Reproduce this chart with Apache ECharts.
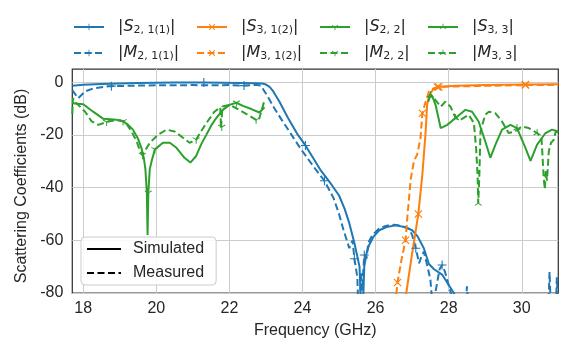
<!DOCTYPE html>
<html><head><meta charset="utf-8">
<script src="https://cdn.jsdelivr.net/npm/echarts@6/dist/echarts.min.js"></script>
<style>html,body{margin:0;padding:0;background:#fff}#c{width:562px;height:344px}</style>
</head><body><div id="c"></div>
<script>
// ---------- data ----------
const xTicks = [18, 20, 22, 24, 26, 28, 30];
const yTicks = [-80, -60, -40, -20, 0];

// |S21| simulated
const s21SimF = [17.7,18.0,18.5,19.0,19.5,20.0,20.5,21.0,21.3,21.8,22.3,22.7,22.9,23.0,23.1,23.2,23.37,23.6,23.85,24.08,24.3,24.5,24.8,25.0,25.15,25.28,25.42,25.56,25.63,25.69,25.75,25.82,25.95,26.1,26.3,26.55,26.8,27.0,27.15,27.32,27.46,27.6,27.82,28.14,28.5,31.0];
const s21SimV = [-1.4,-1.0,-0.7,-0.5,-0.3,-0.2,-0.1,-0.1,-0.1,-0.2,-0.3,-0.4,-0.5,-0.9,-1.8,-3.5,-7.4,-13.5,-19.5,-24,-29,-33.5,-39,-43,-48,-53.5,-61,-70,-95,-70,-65,-61.9,-58.5,-56.2,-55,-54.3,-55,-56.2,-58.5,-63,-69,-71,-73,-80,-90,-95];
const s21SimMk = [21.3, 24.08];
// |M21| measured
const m21F = [17.7,17.86,18.05,18.27,18.55,18.77,19.5,20.0,20.5,21.0,21.5,22.0,22.4,22.7,22.85,22.91,23.05,23.23,23.44,23.64,23.96,24.3,24.6,24.85,25.0,25.12,25.28,25.37,25.42,25.5,25.55,25.6,25.63,25.69,25.75,25.8,25.91,26.1,26.3,26.5,26.7,26.91,27.0,27.1,27.19,27.26,27.32,27.42,27.5,27.56,27.66,27.75,27.82,27.9,27.96,28.1,28.45,28.5,28.55,30.72,30.76,30.8,30.93,30.96,31.0];
const m21V = [-3,-6.1,-3.5,-2.4,-1.8,-1.5,-1.3,-1.2,-1.2,-1.1,-1.2,-1.1,-1.3,-1.0,-1.3,-2.4,-5.5,-9.9,-14.5,-18.7,-25.5,-32,-37.4,-44,-50,-56,-63,-60,-67,-74,-95,-72,-79,-65.6,-67,-61,-58,-55.5,-54.5,-54.1,-54.5,-55.6,-58,-63,-68.7,-66,-64.3,-70,-75,-85,-78,-71,-69.4,-72,-75,-82,-88,-77.5,-88,-88,-72,-88,-88,-74,-88];
const m21Mk = [18.77, 22.4, 24.6, 25.42, 25.69, 27.1, 27.82];

// |S31| simulated
const s31SimF = [26.5,26.84,27.0,27.17,27.28,27.37,27.41,27.46,27.5,27.58,27.69,28.19,29.0,30.1,31.0];
const s31SimV = [-100,-80,-65,-50,-35,-18.7,-8.6,-5.5,-4.3,-2.6,-1.8,-1.4,-1.1,-0.9,-0.8];
const s31SimMk = [27.17, 27.69, 30.1];
// |M31| measured
const m31F = [26.3,26.57,26.6,26.7,26.82,26.87,26.96,27.05,27.14,27.23,27.28,27.37,27.46,27.58,27.73,28.2,29.0,30.1,31.0];
const m31V = [-100,-80,-76,-68,-60,-51,-37,-29.9,-27.4,-21.1,-11.8,-7.4,-3.6,-2.4,-1.8,-1.6,-1.4,-1.1,-1.0];
const m31Mk = [26.6, 26.82, 27.28, 27.73, 30.1];

// |S22| simulated
const s22SimF = [17.7,18.0,18.27,18.55,18.91,19.09,19.23,19.36,19.5,19.59,19.66,19.7,19.74,19.76,19.78,19.82,19.87,19.96,20.18,20.37,20.55,20.77,20.93,21.09,21.23,21.37,21.5,21.64,21.82,22.0,22.19,22.37,22.6,22.82,22.96];
const s22SimV = [-8.0,-8.4,-11.2,-13.9,-14.3,-14.9,-16.2,-18,-21.5,-24.9,-29,-33,-42,-58,-42,-33,-30,-25.5,-23,-23,-24.9,-28.7,-30.5,-28,-23.5,-19.9,-16.5,-13.6,-10.5,-8.6,-7.8,-9.0,-10.2,-11.5,-9.5];
const s22SimMk = [19.09, 19.78, 19.96, 22.19];
// |M22| measured
const m22F = [17.7,17.72,17.76,17.86,18.05,18.23,18.41,18.64,18.91,19.14,19.32,19.46,19.55,19.62,19.68,19.82,20.05,20.28,20.5,20.73,20.91,21.09,21.23,21.37,21.59,21.75,21.77,21.79,21.81,22.0,22.19,22.5,22.73,22.8,22.91,22.96];
const m22V = [-12,-6,-7.5,-8.6,-11.2,-14.9,-16.2,-15.1,-14.3,-14.9,-18.7,-22.4,-26,-27.7,-26.2,-23,-19.9,-18,-18.7,-21.1,-23,-21.8,-18.5,-15.5,-11.2,-9.5,-17.5,-17,-9.2,-8.6,-9.9,-12.4,-14.3,-14.5,-9.3,-6.8];
const m22Mk = [18.64, 19.62, 21.09, 21.79, 22.73];

// |S33| simulated
const s33SimF = [27.44,27.5,27.57,27.64,27.72,27.78,27.82,27.96,28.19,28.46,28.64,28.82,29.0,29.14,29.28,29.46,29.69,29.87,30.1,30.24,30.42,30.65,30.83,31.0];
const s33SimV = [-7.4,-4.9,-6.0,-8.6,-13.5,-17.4,-18,-16.2,-13.6,-10.5,-11.2,-14.9,-22.4,-28.7,-23.7,-18,-16.2,-17.4,-24.9,-29.9,-23.7,-19.3,-18,-18.7];
const s33SimMk = [27.5, 28.19, 29.87];
// |M33| measured
const m33F = [27.46,27.5,27.57,27.64,27.78,27.91,28.05,28.19,28.32,28.55,28.69,28.75,28.79,28.81,28.84,28.87,29.0,29.1,29.28,29.46,29.64,29.82,30.0,30.19,30.42,30.54,30.6,30.63,30.66,30.69,30.74,30.8,30.87,30.93,31.0];
const m33V = [-6.1,-4.6,-5.5,-6.8,-9.3,-7.4,-9.3,-13.6,-14.3,-12.4,-15.5,-24.9,-35,-46,-35,-18.7,-12.4,-11.2,-11.8,-14.9,-19.3,-18.7,-16.8,-17.4,-19.3,-21.1,-36,-40.6,-33.7,-37.4,-26.2,-23,-22,-18.7,-19];
const m33Mk = [28.81, 30.42];

// ---------- helpers ----------
function bar(x1,y1,x2,y2,w){
  const dx=x2-x1, dy=y2-y1, L=Math.hypot(dx,dy), nx=-dy/L*w/2, ny=dx/L*w/2;
  const p=(x,y)=>x.toFixed(3)+','+y.toFixed(3);
  return 'M'+p(x1+nx,y1+ny)+'L'+p(x2+nx,y2+ny)+'L'+p(x2-nx,y2-ny)+'L'+p(x1-nx,y1-ny)+'Z';
}
const W=0.24;
const symPlus='path://'+bar(-1,0,1,0,W)+bar(0,-1,0,1,W);
const symX='path://'+bar(-0.75,-0.75,0.75,0.75,W)+bar(-0.75,0.75,0.75,-0.75,W);
const symTriDown='path://'+bar(0,0,0,1,W)+bar(0,0,-0.87,-0.5,W)+bar(0,0,0.87,-0.5,W)+'M0,-1L0.001,-1L0,-1Z';
const symTriUp='path://'+bar(0,0,0,-1,W)+bar(0,0,-0.87,0.5,W)+bar(0,0,0.87,0.5,W)+'M0,1L0.001,1L0,1Z';

function build(f,v,mk){
  return f.map((x,i)=>{
    const it={value:[x,v[i]]};
    if(!mk.includes(x)) it.symbol='none';
    return it;
  });
}
const BLUE='#1f77b4', ORANGE='#ff7f0e', GREEN='#2ca02c';
const DASH=[7,3.5];
function ser(name,color,dashed,sym,size,f,v,mk){
  return {name, type:'line', data:build(f,v,mk), color, symbol:sym, symbolSize:size, symbolKeepAspect:true,
    showSymbol:true, showAllSymbol:true, clip:true, smooth:false, animation:false,
    lineStyle:{width:2, type: dashed?DASH:'solid', color},
    itemStyle:{color}, emphasis:{disabled:true}};
}
const series=[
  ser('S21',BLUE,false,symPlus,9,s21SimF,s21SimV,s21SimMk),
  ser('M21',BLUE,true,symPlus,9,m21F,m21V,m21Mk),
  ser('S31',ORANGE,false,symX,8,s31SimF,s31SimV,s31SimMk),
  ser('M31',ORANGE,true,symX,8,m31F,m31V,m31Mk),
  ser('S22',GREEN,false,symTriDown,8,s22SimF,s22SimV,s22SimMk),
  ser('M22',GREEN,true,symTriDown,8,m22F,m22V,m22Mk),
  ser('S33',GREEN,false,symTriUp,8,s33SimF,s33SimV,s33SimMk),
  ser('M33',GREEN,true,symTriUp,8,m33F,m33V,m33Mk),
  {name:'Simulated',type:'line',data:[],color:'#000',symbol:'none',showSymbol:false,lineStyle:{width:2,type:'solid',color:'#000'}},
  {name:'Measured',type:'line',data:[],color:'#000',symbol:'none',showSymbol:false,lineStyle:{width:2,type:DASH,color:'#000'}}
];
const labelMap={S21:'|{i|S}{s|2, 1(1)}|',M21:'|{i|M}{s|2, 1(1)}|',S31:'|{i|S}{s|3, 1(2)}|',M31:'|{i|M}{s|3, 1(2)}|',
  S22:'|{i|S}{s|2, 2}|',M22:'|{i|M}{s|2, 2}|',S33:'|{i|S}{s|3, 3}|',M33:'|{i|M}{s|3, 3}|'};
const legOrder=['S21','S31','S22','S33','M21','M31','M22','M33'];
const colX=[73,196,319,427], rowY=[17,43];
const legends=legOrder.map((n,k)=>({
  data:[n], left:colX[k%4], top:rowY[Math.floor(k/4)], orient:'horizontal',
  itemWidth:30, itemHeight:8, itemGap:0, padding:0, selectedMode:false,
  formatter:(name)=>labelMap[name],
  textStyle:{fontFamily:'DejaVu Sans', fontSize:16, color:'#262626', lineHeight:20, padding:[0,0,0,9],
    rich:{i:{fontFamily:'DejaVu Sans', fontStyle:'italic', fontSize:16, color:'#262626', lineHeight:20},
          s:{fontFamily:'DejaVu Sans', fontSize:11, color:'#262626', lineHeight:20, padding:[7,0,0,0]}}}
}));
legends.push({
  data:['Simulated','Measured'], orient:'vertical', left:81, top:237,
  padding:[4,12,4,5], itemWidth:34, itemHeight:14, itemGap:8, selectedMode:false,
  itemStyle:{opacity:0}, lineStyle:{opacity:1},
  borderColor:'#cccccc', borderWidth:1, borderRadius:4, backgroundColor:'rgba(255,255,255,0.85)',
  textStyle:{fontFamily:'Liberation Sans', fontSize:16, color:'#262626', padding:[0,0,0,7]}
});

const chart=echarts.init(document.getElementById('c'),null,{renderer:'canvas'});
chart.setOption({
  animation:false,
  backgroundColor:'#fff',
  grid:{left:72.3, right:3.7, top:69, bottom:49, show:true, borderColor:'#333', borderWidth:1.25, backgroundColor:'transparent'},
  legend:legends,
  xAxis:{type:'value', min:17.7, max:31,
    name:'Frequency (GHz)', nameLocation:'middle', nameGap:30,
    nameTextStyle:{fontFamily:'Liberation Sans', fontSize:16, color:'#262626'},
    axisLine:{show:false}, axisTick:{show:false, customValues:xTicks},
    axisLabel:{customValues:xTicks, fontFamily:'Liberation Sans', fontSize:16, color:'#262626', margin:8, showMinLabel:true, showMaxLabel:true},
    splitLine:{show:true, lineStyle:{color:'#cccccc', width:1}}},
  yAxis:{type:'value', min:-80, max:5,
    name:'Scattering Coefficients (dB)', nameLocation:'middle', nameGap:42,
    nameTextStyle:{fontFamily:'Liberation Sans', fontSize:16, color:'#262626', padding:[0,10,0,0]},
    axisLine:{show:false}, axisTick:{show:false, customValues:yTicks},
    axisLabel:{customValues:yTicks, fontFamily:'Liberation Sans', fontSize:16, color:'#262626', margin:9},
    splitLine:{show:true, lineStyle:{color:'#cccccc', width:1}}},
  series
});
</script></body></html>
